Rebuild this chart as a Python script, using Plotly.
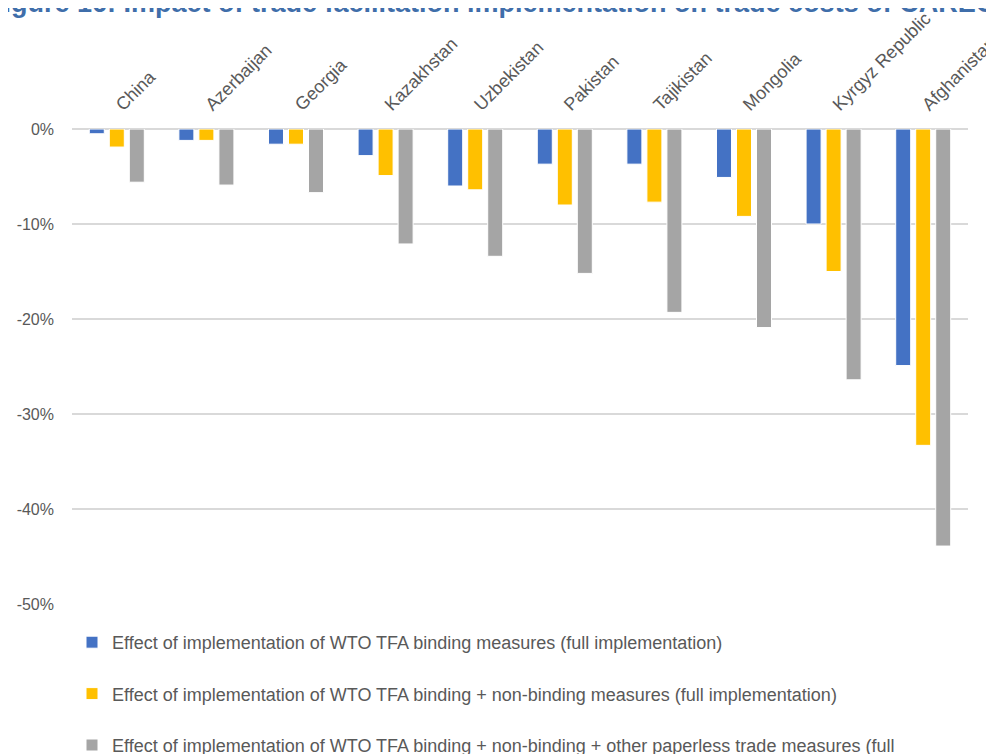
import plotly.graph_objects as go

countries = ["China", "Azerbaijan", "Georgia", "Kazakhstan", "Uzbekistan",
             "Pakistan", "Tajikistan", "Mongolia", "Kyrgyz Republic", "Afghanistan"]

binding = [-0.5, -1.2, -1.6, -2.8, -6.0, -3.7, -3.7, -5.1, -10.0, -24.9]
binding_nonbinding = [-1.9, -1.2, -1.6, -4.9, -6.4, -8.0, -7.7, -9.2, -15.0, -33.3]
binding_nonbinding_paperless = [-5.6, -5.9, -6.7, -12.1, -13.4, -15.2, -19.3, -20.9, -26.4, -43.9]

series_names = [
    "Effect of implementation of WTO TFA binding measures (full implementation)",
    "Effect of implementation of WTO TFA binding + non-binding measures (full implementation)",
    "Effect of implementation of WTO TFA binding + non-binding + other paperless trade measures (full<br>implementation)",
]
series_values = [binding, binding_nonbinding, binding_nonbinding_paperless]
series_colors = ["#4472C4", "#FFC000", "#A5A5A5"]

y_tickvals = [0, -10, -20, -30, -40, -50]
y_ticktext = ["0%", "-10%", "-20%", "-30%", "-40%", "-50%"]

title_text = "Figure 16: Impact of trade facilitation implementation on trade costs of CAREC"

fig = go.Figure()
for i, (name, vals, col) in enumerate(zip(series_names, series_values, series_colors)):
    fig.add_trace(go.Bar(
        x=countries, y=vals, name=name,
        marker=dict(color=col, line=dict(color="white", width=1)),
        legendgroup=f"g{i}",
    ))

# the page body adds an 8px offset; figure coordinates below account for it
W, H = 994, 754
L, R, T, B = 64, 34, 121, 158
ph = H - T - B
pw = W - L - R

def py(px):
    return (H - B - px) / ph

fig.update_layout(
    width=W, height=H,
    margin=dict(l=L, r=R, t=T, b=B, autoexpand=False),
    paper_bgcolor="white", plot_bgcolor="white",
    barmode="group", bargap=0.33, bargroupgap=0.25,
    font=dict(family="Liberation Sans, Arial, sans-serif", color="#595959"),
    showlegend=True,
    legend=dict(
        xref="container", yref="container",
        x=L / W, xanchor="left", y=1 - 616 / H, yanchor="top",
        font=dict(family="Liberation Sans Narrow, Liberation Sans, sans-serif", size=18, color="#595959"),
        tracegroupgap=25, traceorder="grouped", valign="top",
        itemwidth=30,
    ),
    xaxis=dict(
        side="top", tickangle=-45, showgrid=False,
        showline=False, ticks="", tickfont=dict(size=18, color="#595959"),
        ticklabelstandoff=10, fixedrange=True, automargin=False,
    ),
    yaxis=dict(
        range=[-50, 0], tickvals=y_tickvals, ticktext=y_ticktext,
        showgrid=True, gridcolor="#D9D9D9", gridwidth=1.5,
        zeroline=True, zerolinecolor="#D9D9D9", zerolinewidth=1.5,
        tickfont=dict(size=16, color="#595959"), ticklabelstandoff=17,
        showline=False, ticks="", automargin=False,
    ),
    annotations=[dict(
        text="<b>" + title_text + "</b>", xref="paper", yref="paper",
        x=-87 / pw, xanchor="left", y=py(-5), yanchor="middle",
        showarrow=False, font=dict(size=27, color="#3F6EAA", family="Liberation Sans, Arial, sans-serif"),
    )],
)

fig.write_html("out.html")
